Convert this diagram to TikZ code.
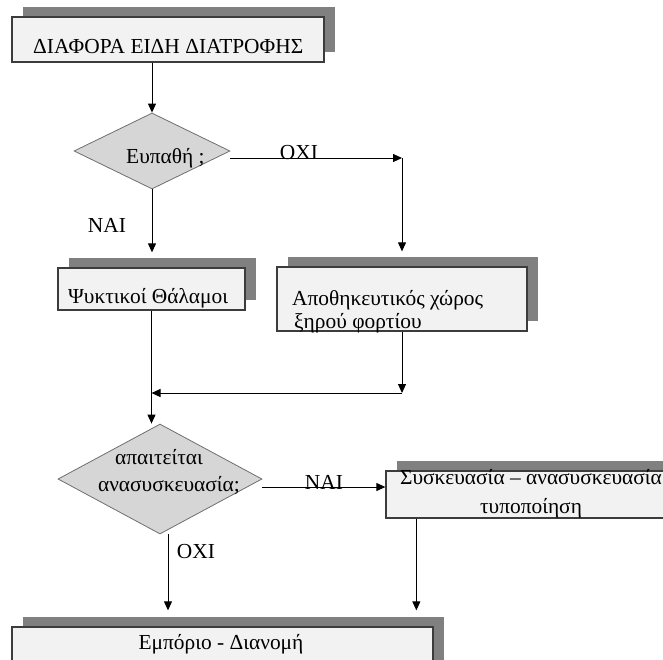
\documentclass[tikz,border=0pt]{standalone}
\usepackage{fontspec}
\setmainfont{Liberation Serif}
\usetikzlibrary{shapes.geometric,shadows,arrows.meta,calc}
\definecolor{boxfill}{HTML}{F2F2F2}
\definecolor{boxline}{HTML}{3C3C3C}
\definecolor{shadowgray}{HTML}{808080}
\definecolor{diafill}{HTML}{D6D6D6}
\definecolor{dialine}{HTML}{6E6E6E}
\begin{document}
\begin{tikzpicture}[x=1pt,y=-1pt,
  font=\fontsize{21.4}{25}\selectfont,
  box/.style={draw=boxline, line width=1.3pt, fill=boxfill, inner sep=0pt,
    general shadow={shadow xshift=11pt, shadow yshift=10pt, fill=shadowgray, draw=none}},
  dia/.style={diamond, draw=dialine, line width=0.8pt, fill=diafill, inner sep=0pt},
  txt/.style={inner sep=0pt, anchor=base west},
  lbl/.style={inner sep=0pt},
  arr/.style={draw=black, line width=1pt, -{Triangle[length=9pt,width=8pt]}}]
\clip (0,0) rectangle (663,659);
\useasboundingbox (0,0) rectangle (663,659);

% boxes and decisions
\node[box, minimum width=312pt, minimum height=45pt] (top) at (168,39.5) {};
\node[txt] (ttop) at (33,53) {ΔΙΑΦΟΡΑ ΕΙΔΗ ΔΙΑΤΡΟΦΗΣ};

\node[dia, minimum width=156pt, minimum height=76pt] (d1) at (152,151) {};
\node[txt] (td1) at (126,163) {Ευπαθή ;};

\node[box, minimum width=187pt, minimum height=42pt] (psy) at (151.5,289) {};
\node[txt] (tpsy) at (68,303) {Ψυκτικοί Θάλαμοι};

\node[box, minimum width=250pt, minimum height=64pt] (apo) at (402,299) {};
\node[txt] (tapoa) at (292,305) {Αποθηκευτικός χώρος};
\node[txt] (tapob) at (294,328) {ξηρού φορτίου};

\node[dia, minimum width=204pt, minimum height=110pt] (d2) at (160,479) {};
\node[lbl, anchor=base] (td2a) at (159,464) {απαιτείται};
\node[lbl, anchor=base] (td2b) at (169,491) {ανασυσκευασία;};

\node[box, minimum width=314pt, minimum height=47pt] (pack) at (543,494.5) {};
\node[lbl, anchor=base] (tpacka) at (531,484) {Συσκευασία – ανασυσκευασία};
\node[lbl, anchor=base] (tpackb) at (531,513) {τυποποίηση};

\node[box, minimum width=421pt, minimum height=45pt] (emp) at (222.5,649.5) {};
\node[lbl, anchor=base] (temp) at (221,649) {Εμπόριο - Διανομή};

% connectors
\coordinate (c1) at (402,158);
\coordinate (c2) at (402,393);
\draw[arr] (top.south -| d1.north) -- (d1.north);
\draw[arr] ([yshift=-7pt]d1.east) -- (c1);
\draw[arr, shorten >=15pt] (c1) -- (c1 |- apo.north);
\draw[arr, shorten >=15pt] (d1.south) -- (d1.south |- psy.north);
\draw[arr] (psy.south) -- (psy.south |- d2.north);
\draw[arr] (apo.south) -- (c2);
\draw[arr] (c2) -- (c2 -| psy.south);
\draw[arr] ([yshift=-8pt]d2.east) -- ([yshift=-8pt]d2.east -| pack.west);
\draw[arr, shorten >=16pt] ([xshift=31pt]pack.south west) -- ([xshift=31pt]pack.south west |- emp.north);
\draw[arr, shorten >=16pt] ([xshift=8pt]d2.south) -- ([xshift=8pt]d2.south |- emp.north);

% labels
\node[lbl] (oxi1) at (299,153) {ΟΧΙ};
\node[lbl] (nai1) at (107,225) {ΝΑΙ};
\node[lbl] (nai2) at (324,482) {ΝΑΙ};
\node[lbl] (oxi2) at (196,552) {ΟΧΙ};
\end{tikzpicture}
\end{document}
